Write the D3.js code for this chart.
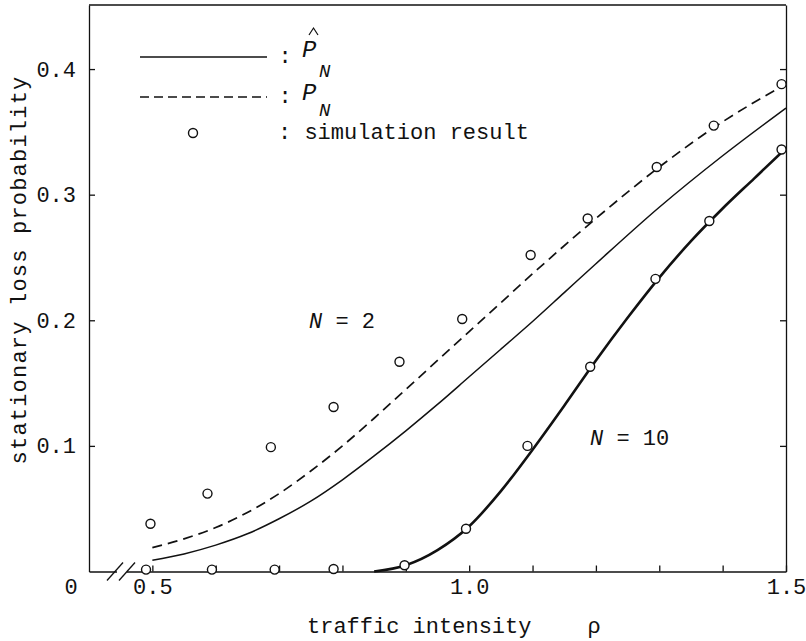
<!DOCTYPE html>
<html>
<head>
<meta charset="utf-8">
<script src="https://cdn.jsdelivr.net/npm/d3@7"></script>
<style>
  html, body { margin: 0; padding: 0; background: #fff; }
  svg { display: block; }
  text { font-family: "Liberation Mono", "DejaVu Sans Mono", monospace; fill: #111; }
</style>
</head>
<body>
<svg id="chart" width="806" height="641"></svg>
<script>
// ---- data ----
const xTicks = [0.5, 0.6, 0.7, 0.8, 0.9, 1.0, 1.1, 1.2, 1.3, 1.4, 1.5];
const xTickLabels = ["0.5", "1.0", "1.5"];
const yTicks = [0.1, 0.2, 0.3, 0.4];
const yTickLabels = ["0.1", "0.2", "0.3", "0.4"];

// dashed : P_N (N = 2)
const pnRho  = [0.5, 0.55, 0.6, 0.65, 0.7, 0.75, 0.8, 0.85, 0.9, 0.95, 1.0, 1.05, 1.1, 1.2, 1.3, 1.4, 1.5];
const pnVal  = [0.019, 0.026, 0.035, 0.047, 0.062, 0.080, 0.100, 0.122, 0.145, 0.168, 0.191, 0.214, 0.237, 0.281, 0.322, 0.358, 0.388];

// solid : P-hat_N (N = 2)
const phRho  = [0.5, 0.55, 0.6, 0.65, 0.7, 0.75, 0.8, 0.85, 0.9, 0.95, 1.0, 1.05, 1.1, 1.15, 1.2, 1.3, 1.4, 1.5];
const phVal  = [0.009, 0.014, 0.021, 0.030, 0.042, 0.056, 0.073, 0.092, 0.112, 0.133, 0.155, 0.177, 0.199, 0.222, 0.245, 0.290, 0.331, 0.369];

// solid (thick) : N = 10
const n10Rho = [0.85, 0.9, 0.95, 1.0, 1.05, 1.1, 1.15, 1.2, 1.25, 1.3, 1.35, 1.4, 1.45, 1.5];
const n10Val = [0.000, 0.005, 0.017, 0.036, 0.064, 0.097, 0.132, 0.168, 0.202, 0.234, 0.263, 0.289, 0.313, 0.337];

// simulation results
const sim2Rho  = [0.497, 0.587, 0.687, 0.786, 0.890, 0.989, 1.097, 1.187, 1.296, 1.386, 1.493];
const sim2Val  = [0.038, 0.062, 0.099, 0.131, 0.167, 0.201, 0.252, 0.281, 0.322, 0.355, 0.388];
const sim10Rho = [0.490, 0.594, 0.693, 0.786, 0.898, 0.995, 1.092, 1.191, 1.294, 1.379, 1.493];
const sim10Val = [0.0015, 0.0015, 0.0015, 0.002, 0.005, 0.034, 0.100, 0.163, 0.233, 0.279, 0.336];

// ---- drawing ----
const svg = d3.select("#chart");
const ink = "#111";
const L = 89, R = 786, T = 5, B = 571.5;

const x = d3.scaleLinear().domain([0.4, 1.5]).range([L, R]);
const y = d3.scaleLinear().domain([0, 0.451]).range([B, T]);

const fs = 22;

// frame: top border
svg.append("line").attr("x1", L).attr("x2", R).attr("y1", T).attr("y2", T)
  .attr("stroke", ink).attr("stroke-width", 1.3);

// bottom axis
const xAxis = d3.axisBottom(x).tickValues(xTicks)
  .tickSizeInner(-6).tickSizeOuter(0).tickPadding(7)
  .tickFormat(d => {
    const s = d3.format(".1f")(d);
    return xTickLabels.includes(s) ? s : "";
  });
const gx = svg.append("g").attr("transform", `translate(0,${B})`).call(xAxis);
gx.selectAll("path,line").attr("stroke", ink).attr("stroke-width", 1.3);
gx.selectAll("text").style("font-family", "Liberation Mono, monospace").style("font-size", fs + "px").attr("fill", ink);

// left axis
const yAxis = d3.axisLeft(y).tickValues(yTicks)
  .tickSizeInner(-6).tickSizeOuter(0).tickPadding(13)
  .tickFormat((d, i) => yTickLabels[i]);
const gy = svg.append("g").attr("transform", `translate(${L},0)`).call(yAxis);
gy.selectAll("path,line").attr("stroke", ink).attr("stroke-width", 1.3);
gy.selectAll("text").style("font-family", "Liberation Mono, monospace").style("font-size", fs + "px").attr("fill", ink);

// right axis (ticks only, inward)
const yAxisR = d3.axisRight(y).tickValues(yTicks)
  .tickSizeInner(-6).tickSizeOuter(0).tickFormat("");
const gyr = svg.append("g").attr("transform", `translate(${R},0)`).call(yAxisR);
gyr.selectAll("path,line").attr("stroke", ink).attr("stroke-width", 1.3);

// origin label "0"
svg.append("text").attr("x", L - 18).attr("y", B + 22).attr("text-anchor", "middle")
  .style("font-size", fs + "px").text("0");

// axis break
svg.append("rect").attr("x", 117).attr("y", B - 3).attr("width", 10).attr("height", 6).attr("fill", "#fff");
[115, 127].forEach(cx => {
  svg.append("line").attr("x1", cx - 8).attr("y1", B + 9).attr("x2", cx + 8).attr("y2", B - 9)
    .attr("stroke", ink).attr("stroke-width", 1.3);
});

// curves
const line = d3.line().x(d => x(d[0])).y(d => y(d[1])).curve(d3.curveMonotoneX);

svg.append("path").datum(pnRho.map((r, i) => [r, pnVal[i]]))
  .attr("d", line).attr("fill", "none").attr("stroke", ink)
  .attr("stroke-width", 1.7).attr("stroke-dasharray", "10,6");

svg.append("path").datum(phRho.map((r, i) => [r, phVal[i]]))
  .attr("d", line).attr("fill", "none").attr("stroke", ink).attr("stroke-width", 1.5);

svg.append("path").datum(n10Rho.map((r, i) => [r, n10Val[i]]))
  .attr("d", line).attr("fill", "none").attr("stroke", ink).attr("stroke-width", 2.6);

// simulation points
const pts = sim2Rho.map((r, i) => [r, sim2Val[i]]).concat(sim10Rho.map((r, i) => [r, sim10Val[i]]));
svg.append("g").selectAll("circle").data(pts).join("circle")
  .attr("cx", d => x(d[0])).attr("cy", d => y(d[1])).attr("r", 4.5)
  .attr("fill", "#fff").attr("stroke", ink).attr("stroke-width", 1.4);

// curve labels
function nLabel(px, py, rest) {
  const t = svg.append("text").attr("x", px).attr("y", py).style("font-size", fs + "px")
    .attr("xml:space", "preserve").style("white-space", "pre");
  t.append("tspan").style("font-style", "italic").text("N");
  t.append("tspan").text(rest);
}
nLabel(309, 328, " = 2");
nLabel(590, 445, " = 10");

// axis titles
svg.append("text").attr("x", 307).attr("y", 633).style("font-size", fs + "px")
  .text("traffic intensity");
svg.append("text").attr("x", 594).attr("y", 633).attr("text-anchor", "middle")
  .style("font-size", fs + "px").text("\u03c1");
svg.append("text").attr("transform", "translate(26,270) rotate(-90)").attr("text-anchor", "middle")
  .style("font-size", fs + "px").style("letter-spacing", "1.2px").text("stationary loss probability");

// legend
const lg = svg.append("g");
lg.append("line").attr("x1", 140).attr("x2", 267).attr("y1", 57).attr("y2", 57)
  .attr("stroke", ink).attr("stroke-width", 1.5);
lg.append("line").attr("x1", 140).attr("x2", 267).attr("y1", 97).attr("y2", 97)
  .attr("stroke", ink).attr("stroke-width", 1.7).attr("stroke-dasharray", "9,5");
lg.append("circle").attr("cx", 193).attr("cy", 133).attr("r", 4.5)
  .attr("fill", "#fff").attr("stroke", ink).attr("stroke-width", 1.4);

lg.append("text").attr("x", 285).attr("y", 63).attr("text-anchor", "middle").style("font-size", fs + "px").text(":");
lg.append("text").attr("x", 285).attr("y", 103).attr("text-anchor", "middle").style("font-size", fs + "px").text(":");
lg.append("text").attr("x", 278).attr("y", 139).style("font-size", fs + "px")
  .style("white-space", "pre").attr("xml:space", "preserve").text(": simulation result");

// circumflex accent over the first P
lg.append("path").attr("d", "M309,35 L313.5,28 L318,35").attr("fill", "none")
  .attr("stroke", ink).attr("stroke-width", 1.2);
lg.append("text").attr("x", 302).attr("y", 57).style("font-size", "24px").style("font-style", "italic").text("P");
lg.append("text").attr("x", 319).attr("y", 77).style("font-size", "19px").style("font-style", "italic").text("N");
lg.append("text").attr("x", 302).attr("y", 100).style("font-size", "24px").style("font-style", "italic").text("P");
lg.append("text").attr("x", 319).attr("y", 116).style("font-size", "19px").style("font-style", "italic").text("N");
</script>
</body>
</html>
